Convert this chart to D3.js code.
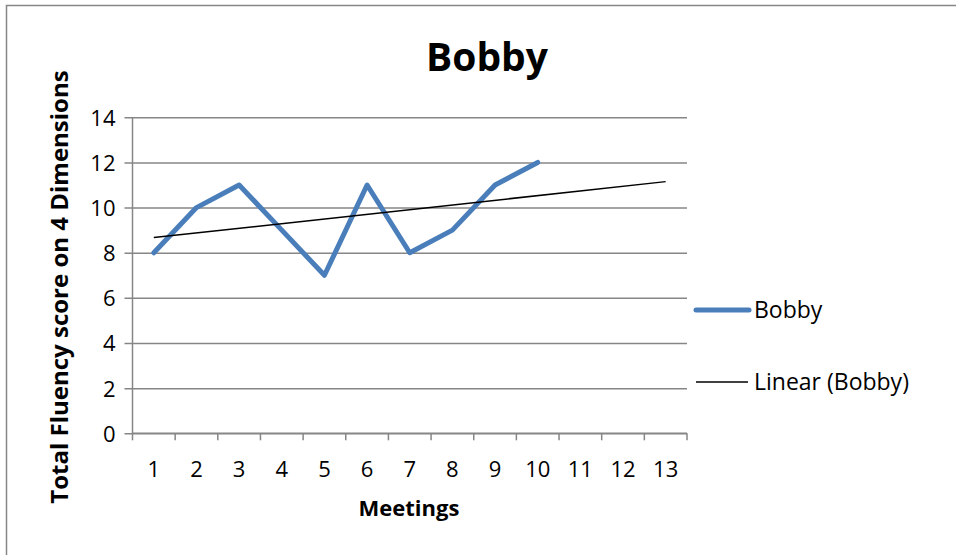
<!DOCTYPE html>
<html lang="en">
<head>
	<meta charset="utf-8">
	<title>Bobby</title>
	<style>
		body { margin: 0; background: #fff; }
		text { font-family: "Open Sans", sans-serif; fill: #000; }
	</style>
</head>
<body>
	<div id="chart"></div>
	<script src="https://d3js.org/d3.v7.min.js"></script>
	<script>
		// data
		var meetings = ["1","2","3","4","5","6","7","8","9","10","11","12","13"];
		var bobby = [8, 10, 11, 9, 7, 11, 8, 9, 11, 12];
		var trendMeetings = ["1", "13"];
		var trendValues = [8.67, 11.15];
		var yTicks = [0, 2, 4, 6, 8, 10, 12, 14];

		var width = 956, height = 555;
		var plotLeft = 132.5, plotRight = 687, plotTop = 117.3, plotBottom = 433.3;

		var svg = d3.select("#chart")
			.append("svg")
			.attr("width", width)
			.attr("height", height);

		// chart border (right and bottom edges fall outside the frame)
		svg.append("rect")
			.attr("x", 6.5).attr("y", 5.5)
			.attr("width", 1000).attr("height", 600)
			.attr("fill", "none")
			.attr("stroke", "#868686")
			.attr("stroke-width", 1.5);

		var x = d3.scaleBand().domain(meetings).range([plotLeft, plotRight]);
		var y = d3.scaleLinear().domain([0, 14]).range([plotBottom, plotTop]);

		// gridlines + y axis
		var yAxis = d3.axisLeft(y).tickValues(yTicks)
			.tickSize(-(plotRight - plotLeft)).tickPadding(17).tickFormat(d3.format("d"));
		var gy = svg.append("g").attr("transform", "translate(" + plotLeft + ",0)").call(yAxis);
		gy.select(".domain").remove();
		gy.selectAll(".tick line")
			.attr("x1", -8)
			.attr("stroke", "#868686").attr("stroke-width", 1.5);
		gy.selectAll(".tick text")
			.attr("fill", "#000")
			.style("font-size", "22px").attr("dy", "0.36em");
		svg.append("line")
			.attr("x1", plotLeft).attr("x2", plotLeft)
			.attr("y1", plotTop).attr("y2", plotBottom)
			.attr("stroke", "#868686").attr("stroke-width", 1.5);

		// x axis (ticks between categories)
		var gx = svg.append("g").attr("transform", "translate(0," + plotBottom + ")");
		gx.append("line")
			.attr("x1", plotLeft).attr("x2", plotRight)
			.attr("stroke", "#868686").attr("stroke-width", 1.5);
		var bounds = meetings.map(function(d) { return x(d); }).concat([plotRight]);
		gx.selectAll(".xtick").data(bounds).enter().append("line")
			.attr("x1", function(d) { return d; }).attr("x2", function(d) { return d; })
			.attr("y1", 0).attr("y2", 7)
			.attr("stroke", "#868686").attr("stroke-width", 1.5);
		gx.selectAll(".xlabel").data(meetings).enter().append("text")
			.attr("x", function(d) { return x(d) + x.bandwidth() / 2; })
			.attr("y", 44)
			.attr("text-anchor", "middle")
			.style("font-size", "22px")
			.text(function(d) { return d; });

		// series
		var line = d3.line()
			.x(function(d, i) { return x(meetings[i]) + x.bandwidth() / 2; })
			.y(function(d) { return y(d); });
		svg.append("path")
			.datum(bobby)
			.attr("d", line)
			.attr("fill", "none")
			.attr("stroke", "#4a7ebb")
			.attr("stroke-width", 5)
			.attr("stroke-linejoin", "round")
			.attr("stroke-linecap", "round");

		// linear trendline
		var trendLine = d3.line()
			.x(function(d, i) { return x(trendMeetings[i]) + x.bandwidth() / 2; })
			.y(function(d) { return y(d); });
		svg.append("path")
			.datum(trendValues)
			.attr("d", trendLine)
			.attr("fill", "none")
			.attr("stroke", "#000")
			.attr("stroke-width", 1.5);

		// titles
		svg.append("text")
			.attr("x", 487).attr("y", 71)
			.attr("text-anchor", "middle")
			.style("font-size", "39px").style("font-weight", "bold")
			.text("Bobby");
		svg.append("text")
			.attr("x", 409).attr("y", 516)
			.attr("text-anchor", "middle")
			.style("font-size", "22px").style("font-weight", "bold")
			.text("Meetings");
		svg.append("text")
			.attr("transform", "translate(68,287) rotate(-90)")
			.attr("text-anchor", "middle")
			.style("font-size", "24px").style("font-weight", "bold")
			.text("Total Fluency score on 4 Dimensions");

		// legend
		var legend = [
			{ name: "Bobby", color: "#4a7ebb", w: 5, y: 310, x1: 696, x2: 749 },
			{ name: "Linear (Bobby)", color: "#000", w: 1.5, y: 382, x1: 696, x2: 748 }
		];
		var lg = svg.selectAll(".legend").data(legend).enter().append("g");
		lg.append("line")
			.attr("x1", function(d) { return d.x1; }).attr("x2", function(d) { return d.x2; })
			.attr("y1", function(d) { return d.y; }).attr("y2", function(d) { return d.y; })
			.attr("stroke", function(d) { return d.color; })
			.attr("stroke-width", function(d) { return d.w; })
			.attr("stroke-linecap", function(d) { return d.w > 2 ? "round" : "butt"; });
		lg.append("text")
			.attr("x", 754)
			.attr("y", function(d) { return d.y; })
			.attr("dy", "0.36em")
			.style("font-size", "23px")
			.text(function(d) { return d.name; });
	</script>
</body>
</html>
